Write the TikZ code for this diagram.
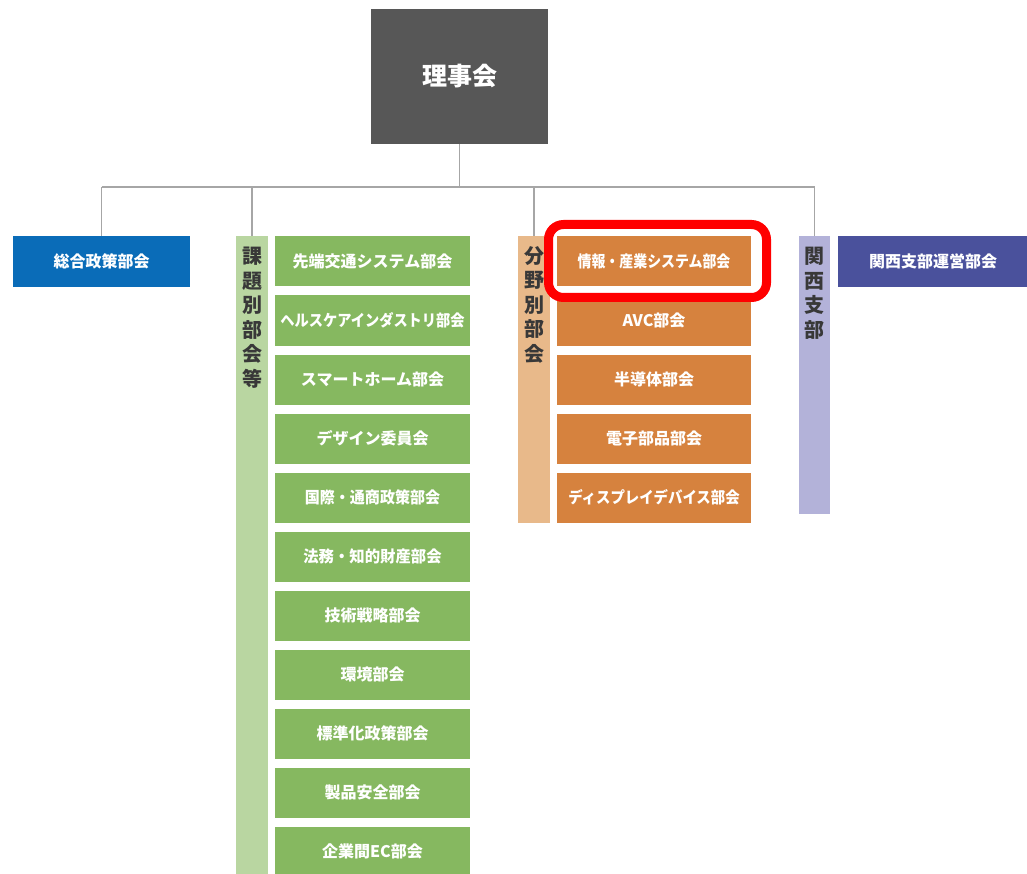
\documentclass[tikz,border=0pt]{standalone}
\usepackage{graphicx}
\usepackage{fontspec}
\newfontfamily\jp{Noto Sans CJK JP}
\definecolor{cDark}{HTML}{575757}
\definecolor{cBlue}{HTML}{0A6CB8}
\definecolor{cGreen}{HTML}{86B860}
\definecolor{cGreenBar}{HTML}{B9D6A1}
\definecolor{cOrange}{HTML}{D6823E}
\definecolor{cOrangeBar}{HTML}{E8B98A}
\definecolor{cPurpleBar}{HTML}{B3B2D9}
\definecolor{cNavy}{HTML}{4A519C}
\definecolor{cLine}{HTML}{A6A6A6}
\definecolor{cSideText}{HTML}{383838}
\tikzset{
  box/.style={rectangle, inner sep=0pt, text=white, font=\jp\bfseries\fontsize{16}{18}\selectfont},
  gbox/.style={box, fill=cGreen, minimum width=195pt, minimum height=50pt},
  obox/.style={box, fill=cOrange, minimum width=194pt, minimum height=50pt},
  sidebar/.style={rectangle, inner sep=0pt, minimum width=32pt},
  sidetext/.style={anchor=north, inner sep=0pt, align=center, text=cSideText, font=\jp\bfseries\fontsize{20}{24.5}\selectfont},
  conn/.style={draw=cLine, line width=1.4pt},
}
\begin{document}
\begin{tikzpicture}[x=1pt,y=-1pt]
\useasboundingbox (0,0) rectangle (1027,874);
\begin{scope}
\clip (0,0) rectangle (1027,874);
% top
\node[box, fill=cDark, minimum width=177pt, minimum height=135pt, font=\jp\bfseries\fontsize{25}{28}\selectfont] (board) at (459.5,76.5) {理事会};
\coordinate (bus) at (0,187);
% left
\node[box, fill=cBlue, minimum width=177pt, minimum height=51pt] (sogo) at (101.5,261.5) {総合政策部会};
% green column
\node[sidebar, fill=cGreenBar, minimum height=640pt] (gbar) at (252,556) {};
\node[sidetext] (gtext) at (252,247) {課\\題\\別\\部\\会\\等};
\node[gbox] (g1) at (372.5,261.5) {先端交通システム部会};
\node[gbox] (g2) at (372.5,320.5) {\scalebox{0.89}[1]{ヘルスケアインダストリ部会}};
\node[gbox] (g3) at (372.5,379.5) {スマートホーム部会};
\node[gbox] (g4) at (372.5,438.5) {デザイン委員会};
\node[gbox] (g5) at (372.5,497.5) {\scalebox{0.94}[1]{国際・通商政策部会}};
\node[gbox] (g6) at (372.5,556.5) {\scalebox{0.96}[1]{法務・知的財産部会}};
\node[gbox] (g7) at (372.5,615.5) {技術戦略部会};
\node[gbox] (g8) at (372.5,674.5) {環境部会};
\node[gbox] (g9) at (372.5,733.5) {標準化政策部会};
\node[gbox] (g10) at (372.5,792.5) {製品安全部会};
\node[gbox] (g11) at (372.5,851.5) {企業間EC部会};
% orange column
\node[sidebar, fill=cOrangeBar, minimum height=287pt] (obar) at (534,379.5) {};
\node[sidetext] (otext) at (534,246) {分\\野\\別\\部\\会};
\node[obox] (o1) at (654,261.5) {\scalebox{0.87}[1]{情報・産業システム部会}};
\node[obox] (o2) at (654,320.5) {AVC部会};
\node[obox] (o3) at (654,379.5) {半導体部会};
\node[obox] (o4) at (654,438.5) {電子部品部会};
\node[obox] (o5) at (654,497.5) {\scalebox{0.9}[1]{ディスプレイデバイス部会}};
\node[draw=red, line width=9pt, rounded corners=15pt, inner sep=0pt, minimum width=218pt, minimum height=73pt] (hl) at (657.5,261) {};
% purple column
\node[sidebar, fill=cPurpleBar, minimum width=31pt, minimum height=278pt] (pbar) at (814.5,375) {};
\node[sidetext] (ptext) at (814.5,247) {関\\西\\支\\部};
\node[box, fill=cNavy, minimum width=190pt, minimum height=51pt] (kansai) at (933,261.5) {関西支部運営部会};
% connectors
\draw[conn] (board.south) -- (board.south |- bus);
\draw[conn] (sogo.north |- bus) -- (pbar.north |- bus);
\draw[conn] (sogo.north) -- (sogo.north |- bus);
\draw[conn] (gbar.north) -- (gbar.north |- bus);
\draw[conn] (obar.north) -- (obar.north |- bus);
\draw[conn] (pbar.north) -- (pbar.north |- bus);
\end{scope}
\end{tikzpicture}
\end{document}
